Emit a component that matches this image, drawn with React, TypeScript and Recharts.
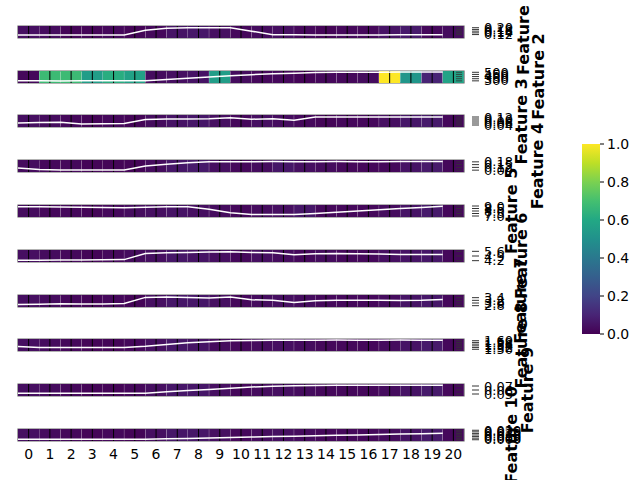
import React from 'react';
import { ComposedChart, BarChart, Bar, Line, Cell, XAxis, YAxis, ReferenceLine, ReferenceArea } from 'recharts';

// columns / time steps
const COLUMNS = [0, 1, 2, 3, 4, 5, 6, 7, 8, 9, 10, 11, 12, 13, 14, 15, 16, 17, 18, 19, 20];

const FEATURES = ['Feature 1', 'Feature 2', 'Feature 3', 'Feature 4', 'Feature 5', 'Feature 6', 'Feature 7', 'Feature 8', 'Feature 9', 'Feature 10'];

// normalized heatmap values (0..1) per feature
const heat1 = [0.04, 0.03, 0.01, 0.01, 0.02, 0.01, 0.02, 0.05, 0.06, 0.04, 0.02, 0.03, 0.04, 0.02, 0.01, 0.02, 0.02, 0.05, 0.07, 0.02, 0.03];
const heat2 = [0.02, 0.68, 0.68, 0.55, 0.62, 0.57, 0.03, 0.04, 0.05, 0.55, 0.03, 0.02, 0.02, 0.01, 0.02, 0.02, 0.03, 1.0, 0.52, 0.1, 0.58];
const heat3 = [0.04, 0.03, 0.02, 0.01, 0.02, 0.01, 0.03, 0.05, 0.06, 0.04, 0.02, 0.04, 0.03, 0.02, 0.01, 0.02, 0.02, 0.04, 0.06, 0.07, 0.02];
const heat4 = [0.03, 0.02, 0.02, 0.01, 0.01, 0.01, 0.03, 0.06, 0.07, 0.04, 0.02, 0.03, 0.06, 0.04, 0.03, 0.02, 0.02, 0.02, 0.05, 0.07, 0.02];
const heat5 = [0.03, 0.02, 0.02, 0.01, 0.02, 0.03, 0.04, 0.05, 0.04, 0.03, 0.02, 0.03, 0.04, 0.06, 0.02, 0.02, 0.02, 0.03, 0.05, 0.07, 0.02];
const heat6 = [0.04, 0.03, 0.02, 0.01, 0.02, 0.03, 0.04, 0.06, 0.05, 0.04, 0.02, 0.04, 0.03, 0.02, 0.03, 0.02, 0.02, 0.04, 0.05, 0.06, 0.02];
const heat7 = [0.04, 0.03, 0.02, 0.01, 0.02, 0.01, 0.04, 0.06, 0.06, 0.04, 0.02, 0.03, 0.04, 0.03, 0.02, 0.02, 0.02, 0.03, 0.05, 0.06, 0.02];
const heat8 = [0.04, 0.03, 0.02, 0.01, 0.01, 0.02, 0.04, 0.06, 0.05, 0.03, 0.02, 0.03, 0.04, 0.03, 0.02, 0.02, 0.02, 0.03, 0.05, 0.07, 0.02];
const heat9 = [0.04, 0.03, 0.02, 0.01, 0.01, 0.02, 0.04, 0.06, 0.06, 0.04, 0.02, 0.03, 0.04, 0.03, 0.02, 0.02, 0.02, 0.03, 0.05, 0.07, 0.02];
const heat10 = [0.04, 0.03, 0.02, 0.01, 0.02, 0.01, 0.04, 0.06, 0.06, 0.04, 0.02, 0.03, 0.04, 0.03, 0.02, 0.02, 0.02, 0.03, 0.05, 0.07, 0.02];

// raw feature values (white line)
const line1 = [0.115, 0.115, 0.114, 0.115, 0.115, 0.116, 0.17, 0.195, 0.2, 0.2, 0.2, 0.16, 0.118, 0.117, 0.116, 0.116, 0.116, 0.116, 0.117, 0.117, 0.117];
const line2 = [300, 300, 299, 300, 301, 300, 302, 330, 360, 390, 420, 445, 465, 480, 495, 500, 502, 503, 504, 505, 505];
const line3 = [0.061, 0.064, 0.068, 0.051, 0.052, 0.054, 0.096, 0.099, 0.1, 0.103, 0.112, 0.098, 0.103, 0.088, 0.12, 0.12, 0.12, 0.121, 0.12, 0.121, 0.12];
const line4 = [0.114, 0.096, 0.093, 0.092, 0.092, 0.092, 0.134, 0.155, 0.171, 0.182, 0.182, 0.182, 0.183, 0.182, 0.182, 0.183, 0.182, 0.182, 0.183, 0.183, 0.183];
const line5 = [8.86, 8.84, 8.79, 8.74, 8.7, 8.65, 8.77, 8.86, 8.84, 8.36, 7.64, 7.28, 7.28, 7.28, 7.52, 7.76, 8.0, 8.24, 8.48, 8.72, 8.96];
const line6 = [4.25, 4.27, 4.31, 4.31, 4.32, 4.36, 5.28, 5.39, 5.44, 5.49, 5.55, 5.44, 5.39, 5.08, 5.22, 5.28, 5.22, 5.19, 5.13, 5.12, 5.13];
const line7 = [2.88, 2.9, 2.94, 2.93, 2.92, 2.96, 3.42, 3.45, 3.42, 3.38, 3.45, 3.24, 3.21, 3.03, 3.16, 3.2, 3.2, 3.2, 3.19, 3.2, 3.27];
const line8 = [1.532, 1.522, 1.521, 1.521, 1.521, 1.521, 1.536, 1.557, 1.575, 1.589, 1.6, 1.603, 1.606, 1.606, 1.606, 1.607, 1.606, 1.606, 1.607, 1.606, 1.606];
const line9 = [0.052, 0.052, 0.052, 0.0521, 0.052, 0.052, 0.0521, 0.0555, 0.0585, 0.0615, 0.0645, 0.0675, 0.0696, 0.0708, 0.0714, 0.0716, 0.0717, 0.0717, 0.0718, 0.0717, 0.0718];
const line10 = [0.0013, 0.0013, 0.0014, 0.0013, 0.0014, 0.0015, 0.0015, 0.0028, 0.0043, 0.0058, 0.0072, 0.0087, 0.01, 0.0114, 0.0128, 0.014, 0.0153, 0.0165, 0.0178, 0.019, 0.0205];

// right axis domains and ticks per feature
const domains: [number, number][] = [[0.08, 0.22], [250, 530], [0.02, 0.14], [0.07, 0.2], [6.8, 9.2], [4.0, 5.8], [2.7, 3.6], [1.48, 1.62], [0.045, 0.075], [-0.004, 0.034]];
const ticks1 = [0.12, 0.14, 0.16, 0.18, 0.2];
const ticks2 = [300, 350, 400, 450, 500];
const ticks3 = [0.04, 0.06, 0.08, 0.1, 0.12];
const ticks4 = [0.09, 0.12, 0.15, 0.18];
const ticks5 = [7.0, 7.5, 8.0, 8.5, 9.0];
const ticks6 = [4.2, 4.9, 5.6];
const ticks7 = [2.8, 3.0, 3.2, 3.4];
const ticks8 = [1.5, 1.52, 1.54, 1.56, 1.58, 1.6];
const ticks9 = [0.05, 0.06, 0.07];
const ticks10 = [0.0, 0.005, 0.01, 0.015, 0.02, 0.025, 0.03];
const tickDigits = [2, 0, 2, 2, 1, 1, 1, 2, 2, 3];

const CBAR_TICKS = [0, 0.2, 0.4, 0.6, 0.8, 1.0];

const HEAT = [heat1, heat2, heat3, heat4, heat5, heat6, heat7, heat8, heat9, heat10];
const LINES = [line1, line2, line3, line4, line5, line6, line7, line8, line9, line10];
const TICKS = [ticks1, ticks2, ticks3, ticks4, ticks5, ticks6, ticks7, ticks8, ticks9, ticks10];

// layout
const FONT = 'DejaVu Sans';
const PLOT_LEFT = 18;
const PLOT_RIGHT = 464;
const ROW_TOP0 = 25.7;
const ROW_STEP = 44.8;
const ROW_H = 12;
const AXIS_W = 40;
const LABEL_X = [524, 538, 522, 538, 512, 522, 520, 522, 528, 512];

const VIRIDIS = ['#440154', '#482475', '#414487', '#355f8d', '#2a788e', '#21918c', '#22a884', '#44bf70', '#7ad151', '#bddf26', '#fde725'];

function viridis(t: number) {
  const v = Math.max(0, Math.min(1, t)) * 10;
  const i = Math.min(9, Math.floor(v));
  const f = v - i;
  const a = VIRIDIS[i], b = VIRIDIS[i + 1];
  const ch = (s: string, o: number) => parseInt(s.slice(o, o + 2), 16);
  const mix = (o: number) => Math.round(ch(a, o) + (ch(b, o) - ch(a, o)) * f);
  return `rgb(${mix(1)},${mix(3)},${mix(5)})`;
}

const RightTick = (props: any) => {
  const { x, y, payload, digits } = props;
  return (
    <g>
      <line x1={x - 8} x2={x - 2} y1={y} y2={y} stroke="#333" strokeWidth={0.8} />
      <line x1={x + 8} x2={x + 15} y1={y} y2={y} stroke="#000" strokeWidth={0.8} />
      <text x={x + 20} y={y} dy="0.35em" fontSize={13} fontFamily={FONT} fill="#000">
        {Number(payload.value).toFixed(digits)}
      </text>
    </g>
  );
};

function FeatureRow({ k }: { k: number }) {
  const last = k === FEATURES.length - 1;
  const cells = COLUMNS.map((c, i) => ({ c, full: 1, v: HEAT[k][i] }));
  const points = COLUMNS.map((c, i) => ({ x: c, y: LINES[k][i] }));
  const height = ROW_H + (last ? 30 : 0);
  return (
    <div style={{ position: 'absolute', left: 0, top: ROW_TOP0 + ROW_STEP * k }}>
      <ComposedChart
        width={640}
        height={height}
        data={cells}
        barCategoryGap={0}
        barGap={0}
        margin={{ top: 0, right: 640 - PLOT_RIGHT - AXIS_W, bottom: 0, left: PLOT_LEFT }}
      >
        <XAxis xAxisId="cat" dataKey="c" type="category" hide height={0} />
        <XAxis
          xAxisId="num"
          dataKey="x"
          type="number"
          domain={[0, 21]}
          ticks={COLUMNS.map((c) => c + 0.5)}
          tickFormatter={(v: number) => String(v - 0.5)}
          hide={!last}
          height={last ? 30 : 0}
          axisLine={false}
          tickLine={false}
          tickSize={0}
          tickMargin={8}
          interval={0}
          tick={{ fill: '#000', fontSize: 14, fontFamily: FONT }}
        />
        <YAxis yAxisId="cell" domain={[0, 1]} hide width={0} />
        <YAxis
          yAxisId="val"
          orientation="right"
          domain={domains[k]}
          ticks={TICKS[k]}
          width={AXIS_W}
          axisLine={false}
          tickLine={false}
          tickSize={0}
          tickMargin={0}
          interval={0}
          allowDataOverflow
          tick={(p: any) => <RightTick {...p} digits={tickDigits[k]} />}
        />
        <Bar xAxisId="cat" yAxisId="cell" dataKey="full" isAnimationActive={false}>
          {cells.map((c, i) => (
            <Cell key={i} fill={viridis(c.v)} />
          ))}
        </Bar>
        {COLUMNS.map((c) => (
          <ReferenceLine key={c} xAxisId="num" yAxisId="cell" x={c + 0.5} stroke="#000" strokeWidth={1} />
        ))}
        <ReferenceArea xAxisId="num" yAxisId="cell" x1={0} x2={21} y1={0} y2={1} fill="none" stroke="#666" strokeWidth={1.2} />
        <Line
          xAxisId="num"
          yAxisId="val"
          data={points}
          dataKey="y"
          type="linear"
          stroke="#ffffff"
          strokeWidth={1.5}
          dot={false}
          isAnimationActive={false}
        />
      </ComposedChart>
    </div>
  );
}

function Colorbar() {
  const data = [{ n: 'cb', full: 1 }];
  return (
    <div style={{ position: 'absolute', left: 582, top: 144 }}>
      <BarChart width={18 + 50} height={190} data={data} margin={{ top: 0, right: 0, bottom: 0, left: 0 }} barCategoryGap={0}>
        <defs>
          <linearGradient id="cbGrad" x1="0" y1="1" x2="0" y2="0">
            {VIRIDIS.map((c, i) => (
              <stop key={i} offset={`${i * 10}%`} stopColor={c} />
            ))}
          </linearGradient>
        </defs>
        <XAxis dataKey="n" hide height={0} />
        <YAxis
          orientation="right"
          domain={[0, 1]}
          ticks={CBAR_TICKS}
          interval={0}
          width={50}
          axisLine={false}
          tickSize={4}
          tickMargin={3}
          tickLine={{ stroke: '#000' }}
          tickFormatter={(v: number) => v.toFixed(1)}
          tick={{ fill: '#000', fontSize: 14, fontFamily: FONT }}
        />
        <Bar dataKey="full" fill="url(#cbGrad)" isAnimationActive={false} />
      </BarChart>
    </div>
  );
}

export default function App() {
  return (
    <div style={{ position: 'absolute', left: 0, top: 0, width: 640, height: 480, background: '#fff', fontFamily: FONT, overflow: 'hidden' }}>
      <style>{`.recharts-wrapper, .recharts-surface { overflow: visible !important; }`}</style>
      {FEATURES.map((f, k) => (
        <FeatureRow key={f} k={k} />
      ))}
      <Colorbar />
      <svg width={640} height={480} style={{ position: 'absolute', left: 0, top: 0, pointerEvents: 'none' }}>
        {FEATURES.map((f, k) => {
          const cy = ROW_TOP0 + ROW_STEP * k + ROW_H / 2;
          return (
            <text
              key={f}
              x={LABEL_X[k]}
              y={cy}
              transform={`rotate(-90 ${LABEL_X[k]} ${cy})`}
              textAnchor="middle"
              dominantBaseline="central"
              fontSize={16}
              fontWeight="bold"
              fontFamily={FONT}
              fill="#000"
            >
              {f}
            </text>
          );
        })}
      </svg>
    </div>
  );
}
